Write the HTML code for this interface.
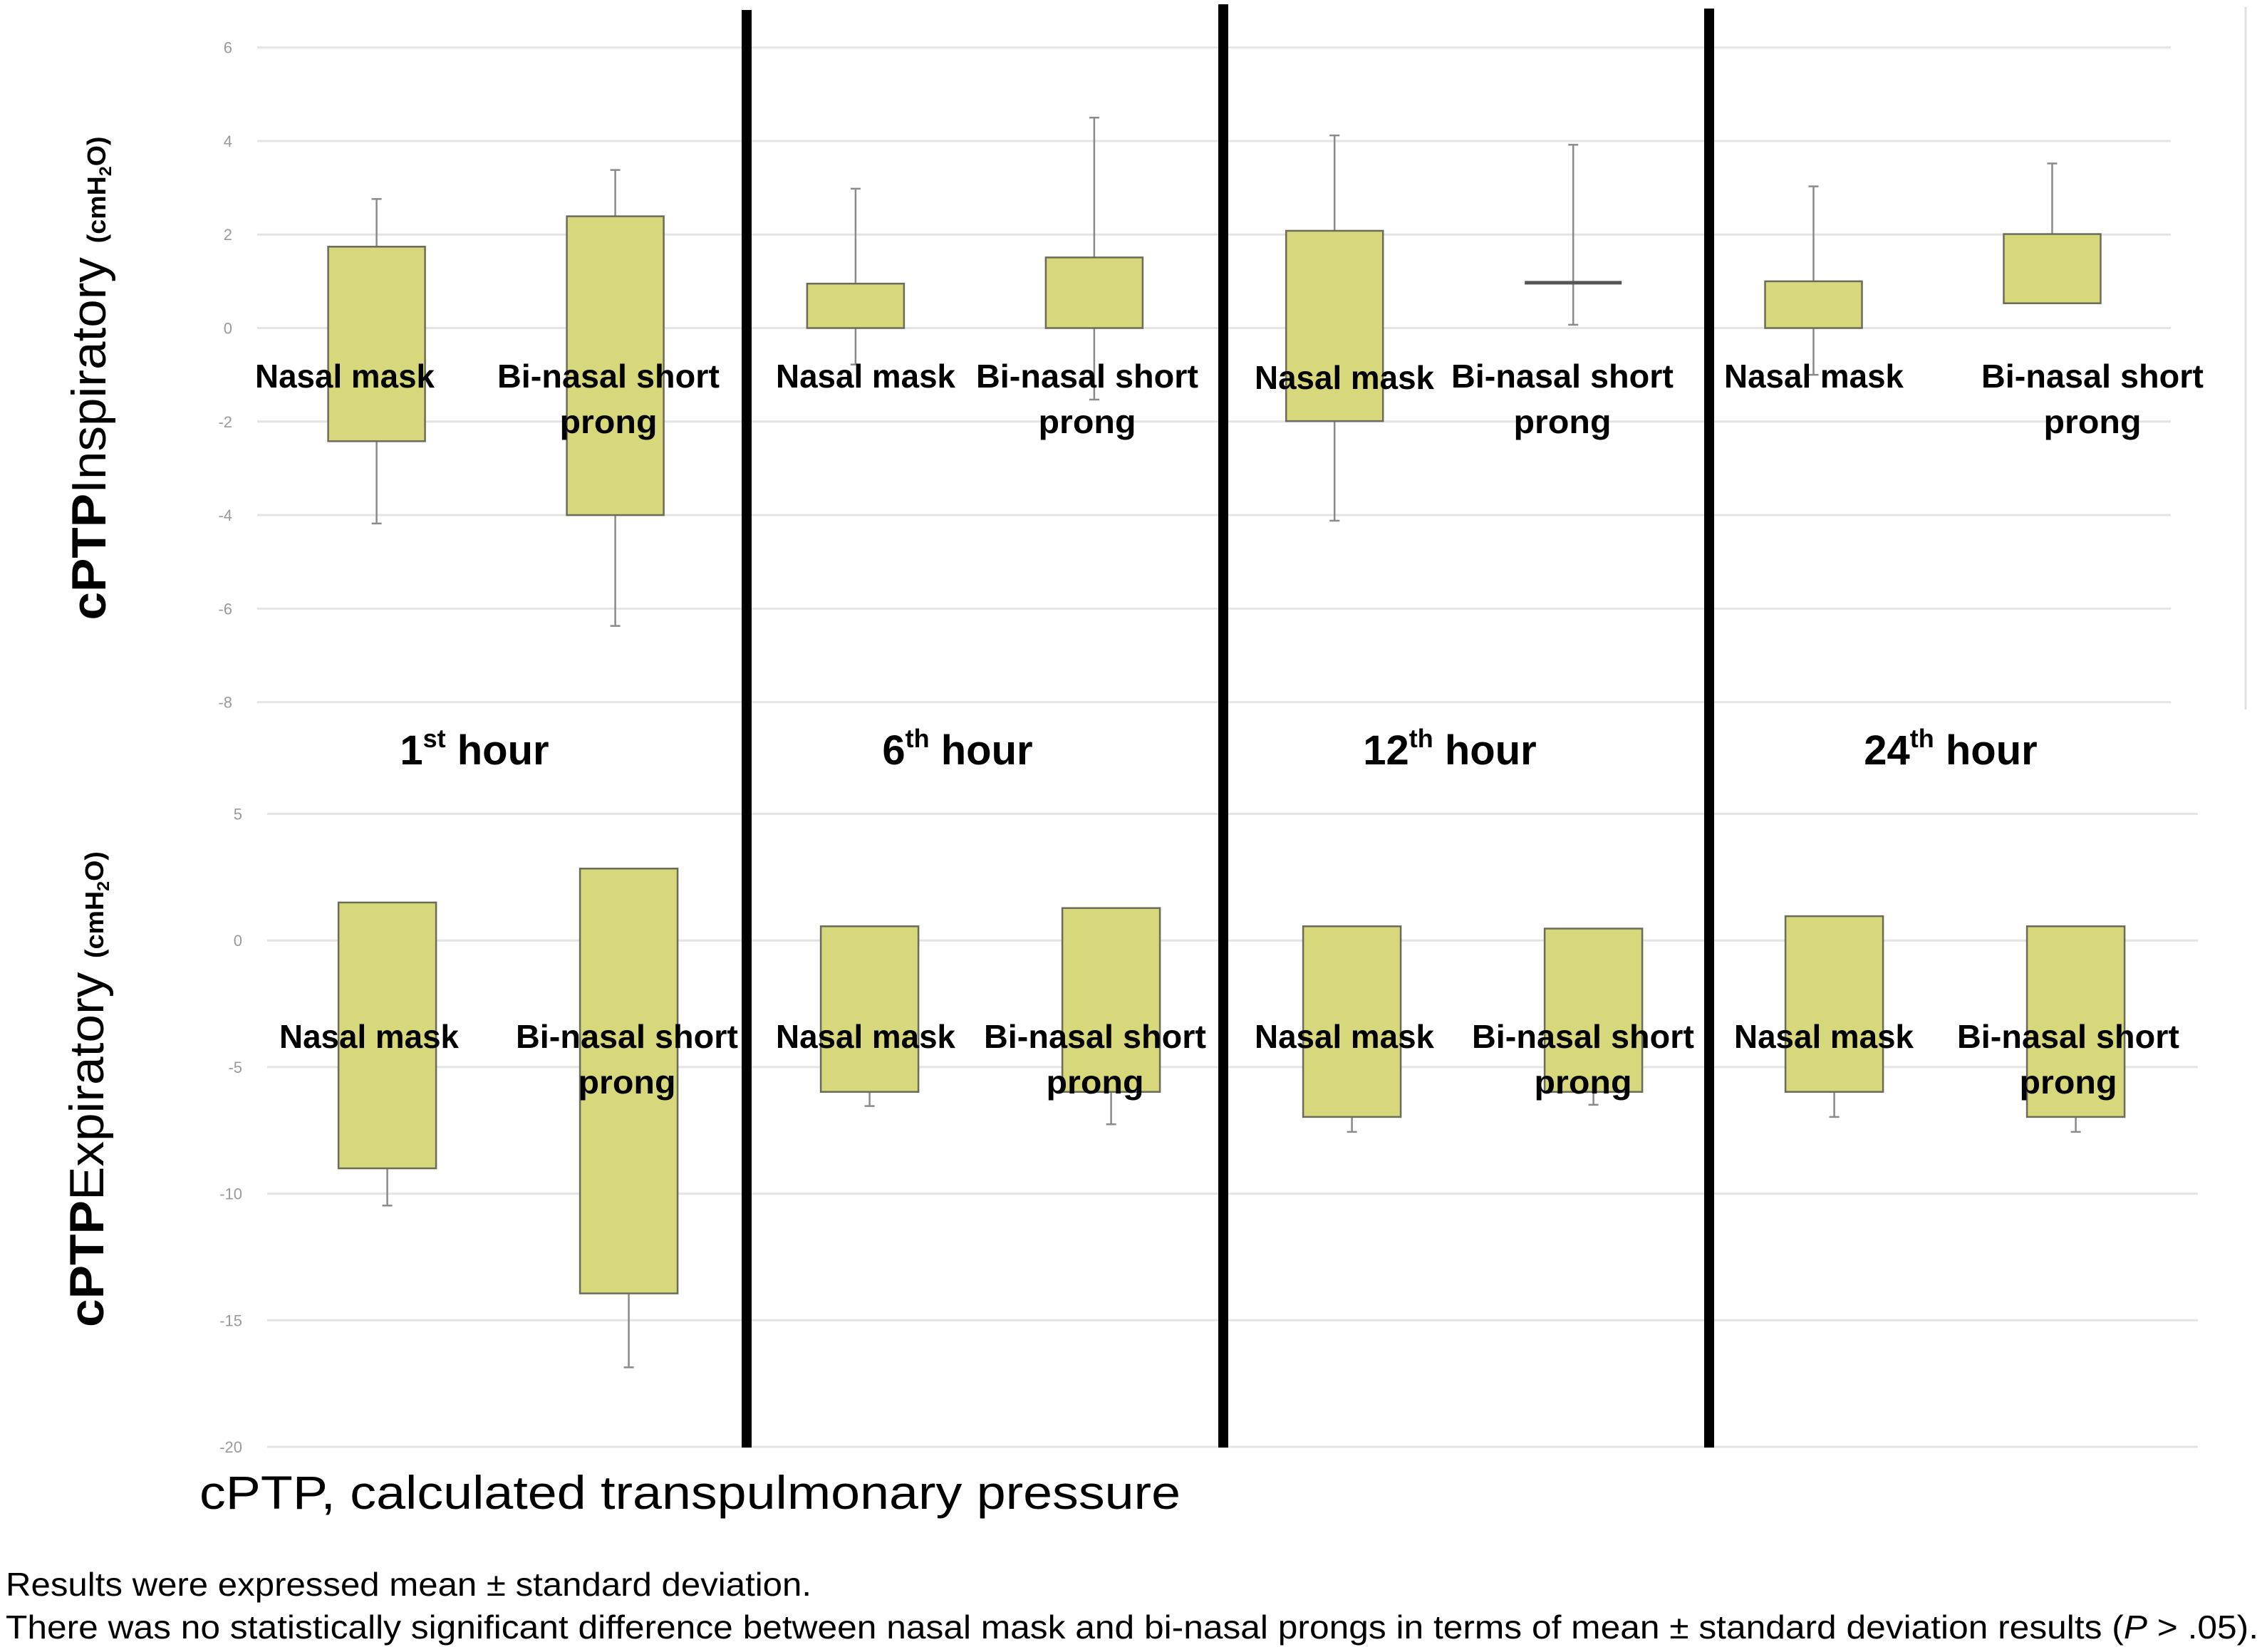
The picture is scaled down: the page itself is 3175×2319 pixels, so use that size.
<!DOCTYPE html>
<html><head><meta charset="utf-8"><style>
html,body{margin:0;padding:0;background:#fff;}
svg{display:block;}
text{font-family:"Liberation Sans",sans-serif;}
</style></head><body>
<svg id="chart" width="3175" height="2319" viewBox="0 0 3175 2319" xmlns="http://www.w3.org/2000/svg">
<g id="grid"></g>
<g id="marks"></g>
<g id="seps"></g>
<g id="labels"></g>
</svg>
<script>
// ---- data ----
const times = ["1st", "6th", "12th", "24th"];
const devices = ["Nasal mask", "Bi-nasal short prong"];
const inspTicks = [6, 4, 2, 0, -2, -4, -6, -8];
const expTicks = [5, 0, -5, -10, -15, -20];
// order: 1st NM, 1st BN, 6th NM, 6th BN, 12th NM, 12th BN, 24th NM, 24th BN
const inspBoxHigh = [1.74, 2.39, 0.95, 1.51, 2.08, 0.97, 1.0, 2.01];
const inspBoxLow = [-2.42, -4.0, 0, 0, -1.99, 0.97, 0, 0.53];
const inspWhiskHigh = [2.76, 3.38, 2.98, 4.5, 4.12, 3.92, 3.03, 3.52];
const inspWhiskLow = [-4.18, -6.37, -0.78, -1.53, -4.12, 0.07, -1.0, 0.53];
const expBoxHigh = [1.5, 2.84, 0.56, 1.28, 0.56, 0.47, 0.96, 0.56];
const expBoxLow = [-9.0, -13.94, -5.98, -5.98, -6.97, -5.98, -5.98, -6.97];
const expWhiskHigh = [1.5, 2.84, 0.56, 1.28, 0.56, 0.47, 0.96, 0.56];
const expWhiskLow = [-10.47, -16.86, -6.54, -7.26, -7.56, -6.49, -6.97, -7.56];

const NS = "http://www.w3.org/2000/svg";
function mk(tag, attrs, parent) {
  const e = document.createElementNS(NS, tag);
  for (const k in attrs) e.setAttribute(k, attrs[k]);
  parent.appendChild(e);
  return e;
}
const grid = document.getElementById("grid");
const marks = document.getElementById("marks");
const seps = document.getElementById("seps");
const labels = document.getElementById("labels");

// axes
const yInsp = v => 460.5 - 65.64 * v;
const yExp = v => 1320.2 - 35.54 * v;
const xInsp = i => 528.6 + Math.floor(i / 2) * 672.3 + (i % 2) * 335;
const xExp = i => 543.6 + Math.floor(i / 2) * 677 + (i % 2) * 339;

function drawGrid(ticks, yf, x0, x1, labelX, nameP) {
  ticks.forEach(t => {
    const l = mk("line", {x1: x0, x2: x1, y1: yf(t), y2: yf(t), stroke: "#e4e4e4", "stroke-width": 3}, grid);
    
    
    const tx = mk("text", {x: labelX, y: yf(t) + 8, "text-anchor": "end", "font-size": 22, fill: "#999"}, grid);
    tx.textContent = t;
    
    
  });
}
drawGrid(inspTicks, yInsp, 361, 3047, 326, "insp");
drawGrid(expTicks, yExp, 375, 3085, 340, "exp");

function drawBoxes(xf, yf, bh, bl, wh, wl, w, nameP) {
  for (let i = 0; i < bh.length; i++) {
    const cx = xf(i);
    const wk = mk("line", {x1: cx, x2: cx, y1: yf(wh[i]), y2: yf(wl[i]), stroke: "#8a8a8a", "stroke-width": 2.5}, marks);
    
    
    [wh[i], wl[i]].forEach(v => {
      if (v === bh[i] || v === bl[i]) return;
      const c = mk("line", {x1: cx - 7, x2: cx + 7, y1: yf(v), y2: yf(v), stroke: "#8a8a8a", "stroke-width": 2.5}, marks);
      
      
    });
    const top = yf(bh[i]), bot = yf(bl[i]);
    const h = bot - top;
    if (h > 1) {
      const r = mk("rect", {x: cx - w / 2, y: top, width: w, height: h, fill: "#d7d77c", stroke: "#6b6b5a", "stroke-width": 2.5}, marks);
      
      
    } else {
      const m = mk("line", {x1: cx - w / 2, x2: cx + w / 2, y1: top, y2: top, stroke: "#555", "stroke-width": 5}, marks);
      
      
    }
  }
}
drawBoxes(xInsp, yInsp, inspBoxHigh, inspBoxLow, inspWhiskHigh, inspWhiskLow, 136, "insp");
drawBoxes(xExp, yExp, expBoxHigh, expBoxLow, expWhiskHigh, expWhiskLow, 137, "exp");

// separators
[[1048, 14], [1717, 6], [2399, 12]].forEach(s => {
  const r = mk("rect", {x: s[0] - 7, y: s[1], width: 14, height: 2032 - s[1], fill: "#000"}, seps);
  
  
});
const rl = mk("line", {x1: 3152, x2: 3152, y1: 10, y2: 996, stroke: "#e0e0e0", "stroke-width": 3}, seps);



// device labels
function txt(str, x, y, size, weight, len, name, anchor) {
  const t = mk("text", {x: x, y: y, "font-size": size, "font-weight": weight, "text-anchor": anchor || "middle", fill: "#000"}, labels);
  if (len) { t.setAttribute("textLength", len); t.setAttribute("lengthAdjust", "spacingAndGlyphs"); }
  t.textContent = str;
  
  
  return t;
}
const topNM = [[484, 544], [1215, 544], [1887, 546], [2546, 544]];
const topBN = [854, 1526, 2193, 2937];
const botNM = [518, 1215, 1887, 2560];
const botBN = [880, 1537, 2222, 2903];
topNM.forEach(p => txt("Nasal mask", p[0], p[1], 46, "bold", 252, "device-label-nasal-mask"));
topBN.forEach(x => { txt("Bi-nasal short", x, 544, 46, "bold", 312, "device-label-binasal"); txt("prong", x, 608, 46, "bold", 137, "device-label-prong"); });
botNM.forEach(x => txt("Nasal mask", x, 1471, 46, "bold", 252, "device-label-nasal-mask"));
botBN.forEach(x => { txt("Bi-nasal short", x, 1471, 46, "bold", 312, "device-label-binasal"); txt("prong", x, 1535, 46, "bold", 137, "device-label-prong"); });

// hour labels
const hourX = [666, 1344, 2035, 2738];
const sups = ["st", "th", "th", "th"];
const nums = ["1", "6", "12", "24"];
hourX.forEach((x, i) => {
  const t = mk("text", {x: x, y: 1073, "font-size": 58, "font-weight": "bold", "text-anchor": "middle"}, labels);
  
  
  const a = mk("tspan", {}, t); a.textContent = nums[i];
  const b = mk("tspan", {"font-size": 36, dy: -24}, t); b.textContent = sups[i];
  const c = mk("tspan", {dy: 24}, t); c.textContent = " hour";
});

// y titles
function ytitle(word, cx, cy, len, name) {
  const t = mk("text", {x: 0, y: 0, transform: `translate(${cx},${cy}) rotate(-90)`, "font-size": 68, "text-anchor": "middle", textLength: len, lengthAdjust: "spacingAndGlyphs"}, labels);
  
  
  const a = mk("tspan", {"font-weight": "bold"}, t); a.textContent = "cPTP";
  const b = mk("tspan", {}, t); b.textContent = word + " ";
  const c = mk("tspan", {"font-weight": "bold", "font-size": 36}, t); c.textContent = "(cmH";
  const d = mk("tspan", {"font-weight": "bold", "font-size": 24, dy: 8}, t); d.textContent = "2";
  const e = mk("tspan", {"font-weight": "bold", "font-size": 36, dy: -8}, t); e.textContent = "O)";
}
ytitle("Inspiratory", 148, 531, 679, "y-axis-title-inspiratory");
ytitle("Expiratory", 145, 1529, 668, "y-axis-title-expiratory");

// footer
txt("cPTP, calculated transpulmonary pressure", 280, 2118, 66, "normal", 1377, "footer-abbreviation", "start");
txt("Results were expressed mean \u00b1 standard deviation.", 8, 2240, 46, "normal", 1131, "footer-note-1", "start");
const f2 = mk("text", {x: 8, y: 2300, "font-size": 46, textLength: 3162, lengthAdjust: "spacingAndGlyphs"}, labels);


const p1 = mk("tspan", {}, f2); p1.textContent = "There was no statistically significant difference between nasal mask and bi-nasal prongs in terms of mean \u00b1 standard deviation results (";
const p2 = mk("tspan", {"font-style": "italic"}, f2); p2.textContent = "P";
const p3 = mk("tspan", {}, f2); p3.textContent = " > .05).";
</script>
</body></html>
